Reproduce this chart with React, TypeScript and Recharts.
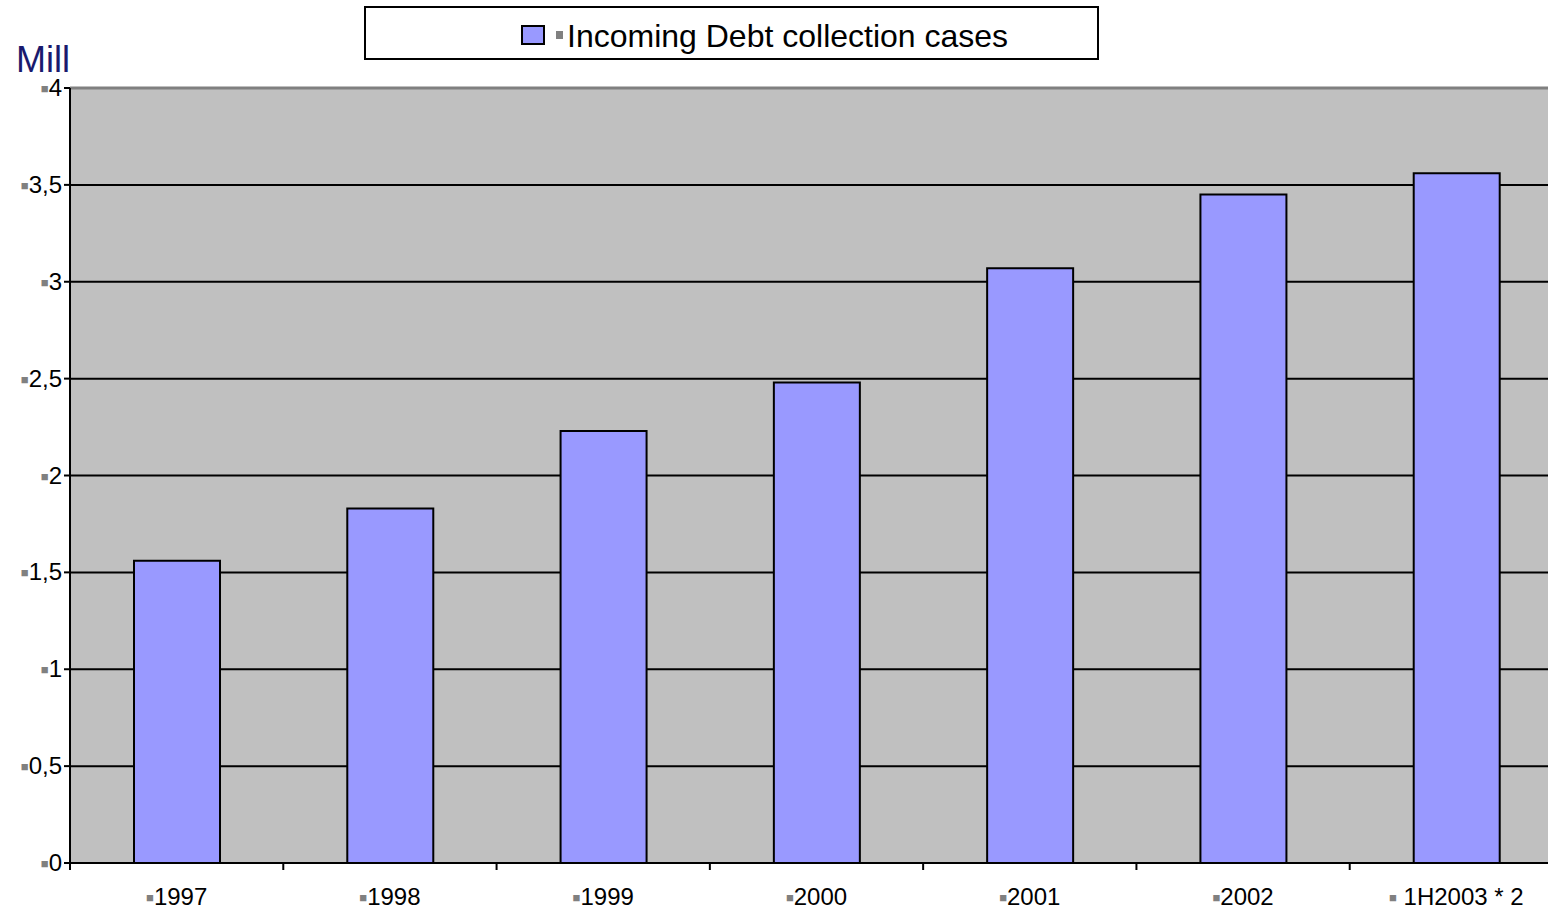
import React from 'react';
import { BarChart, Bar, XAxis, YAxis, CartesianGrid, ReferenceLine } from 'recharts';

const categories = ['1997', '1998', '1999', '2000', '2001', '2002', ' 1H2003 * 2'];
const incomingCases = [1.56, 1.83, 2.23, 2.48, 3.07, 3.45, 3.56];
const yTicks = [0, 0.5, 1, 1.5, 2, 2.5, 3, 3.5, 4];

const data = categories.map((c, i) => ({ name: c, value: incomingCases[i] }));

const FONT = '"Liberation Sans", Arial, sans-serif';

const YTick = ({ x, y, payload }: any) => (
  <text x={x} y={y + 8} textAnchor="end" fontFamily={FONT} fontSize={24} fill="#000">
    <tspan fill="#808080" fontSize={13} dy={-3}>■</tspan>
    <tspan dy={3}>{String(payload.value).replace('.', ',')}</tspan>
  </text>
);

// label at the category centre, small tick mark at the left edge of each band
const XTick = ({ x, y, payload, width, visibleTicksCount, index }: any) => {
  const half = width / visibleTicksCount / 2;
  return (
    <g>
      <line x1={x - half} x2={x - half} y1={y - 8} y2={y - 1} stroke="#000" strokeWidth={2} />
      {index === visibleTicksCount - 1 && (
        <line x1={x + half} x2={x + half} y1={y - 8} y2={y - 1} stroke="#000" strokeWidth={2} />
      )}
      <text x={x} y={y + 34} textAnchor="middle" fontFamily={FONT} fontSize={24} fill="#000">
        <tspan fill="#808080" fontSize={13} dy={-3}>■</tspan>
        <tspan dy={3}>{payload.value}</tspan>
      </text>
    </g>
  );
};

export default function App() {
  return (
    <div style={{ position: 'absolute', left: 0, top: 0, width: 1548, height: 911, overflow: 'hidden', background: '#fff' }}>
      <div style={{ position: 'absolute', left: 16, top: 48, fontFamily: FONT, fontSize: 36, color: '#1a1a6e', lineHeight: '24px' }}>Mill</div>
      <div
        style={{
          position: 'absolute',
          left: 364,
          top: 6,
          width: 731,
          height: 50,
          border: '2px solid #000',
          background: '#fff',
          display: 'flex',
          alignItems: 'center',
          fontFamily: FONT,
          fontSize: 32,
          zIndex: 2,
        }}
      >
        <span style={{ display: 'inline-block', width: 20, height: 16, background: '#9999ff', border: '2px solid #000', marginLeft: 155, marginRight: 11, marginTop: 4 }} />
        <span style={{ display: 'inline-block', width: 7, height: 8, background: '#808080', marginRight: 4, marginTop: 4 }} />
        <span style={{ marginTop: 6 }}>Incoming Debt collection cases</span>
      </div>
      <BarChart
        width={1600}
        height={911}
        data={data}
        margin={{ top: 88, right: 37, bottom: 0, left: 0 }}
        barSize={86}
      >
        <CartesianGrid vertical={false} fill="#c0c0c0" stroke="#000" strokeWidth={2} strokeOpacity={1} />
        <ReferenceLine y={4} stroke="#808080" strokeWidth={3} />
        <XAxis
          dataKey="name"
          tick={<XTick />}
          tickLine={false}
          axisLine={{ stroke: '#000', strokeWidth: 2 }}
          interval={0}
          height={48}
        />
        <YAxis
          width={70}
          domain={[0, 4]}
          ticks={yTicks}
          tick={<YTick />}
          tickSize={6}
          tickLine={{ stroke: '#000', strokeWidth: 2 }}
          axisLine={{ stroke: '#000', strokeWidth: 2 }}
          interval={0}
        />
        <Bar dataKey="value" fill="#9999ff" stroke="#000" strokeWidth={2} isAnimationActive={false} />
      </BarChart>
    </div>
  );
}
